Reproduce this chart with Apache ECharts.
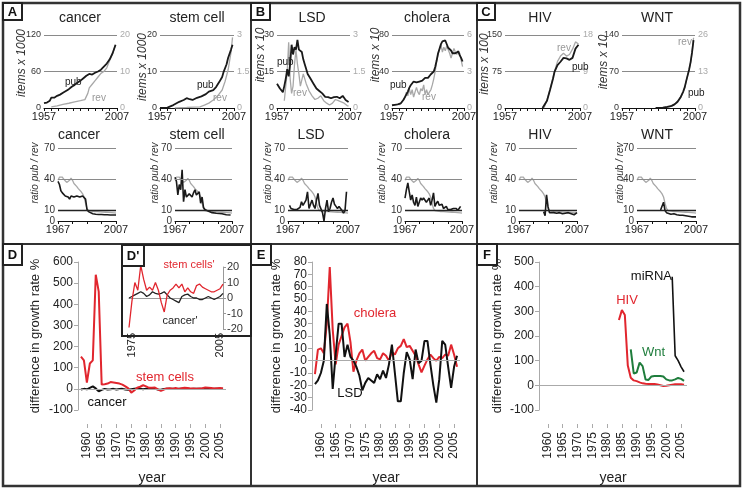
<!DOCTYPE html>
<html>
<head>
<meta charset="utf-8">
<script src="https://cdn.jsdelivr.net/npm/echarts@6/dist/echarts.min.js"></script>
<style>
html,body{margin:0;padding:0;background:#fff;}
#main{width:744px;height:489px;}
</style>
</head>
<body>
<div id="main"></div>
<script>
// tick labels
var topTicks = [1957,1962,1967,1972,1977,1982,1987,1992,1997,2002,2007];
var ratioTicks = [1967,1977,1987,1997,2007];
var bigTicks = [1960,1965,1970,1975,1980,1985,1990,1995,2000,2005];

// top row: publications (pub) and reviews (rev), [year, value]
var cancerPub = [[1957,8],[1959,9],[1961,12],[1962,17],[1964,17],[1966,20],[1968,22],[1970,25],[1972,28],[1974,31],[1976,35],[1978,38],[1980,42],[1982,45],[1984,49],[1986,53],[1988,56],[1990,55],[1992,58],[1994,60],[1996,63],[1998,68],[2000,73],[2002,80],[2004,90],[2006,104]];
var cancerRev = [[1962,0.3],[1966,0.6],[1970,1],[1974,1.3],[1978,1.7],[1982,2],[1985,2.3],[1986,2.5],[1987,4],[1988,5.5],[1990,6.5],[1992,7.5],[1994,8.5],[1996,9.5],[1998,10],[2000,11],[2002,13],[2004,15],[2006,17.3]];
var stemPub = [[1957,0],[1962,0.1],[1966,0.8],[1970,1.7],[1973,2.2],[1975,2.7],[1977,2.4],[1979,2.2],[1982,2.8],[1985,3.2],[1988,3.8],[1990,4.5],[1993,4.9],[1995,5.8],[1997,7.1],[1999,8.5],[2000,9.9],[2002,12],[2003,13.7],[2005,16],[2006,17.3]];
var stemRev = [[1967,0],[1975,0.02],[1980,0.04],[1984,0.05],[1987,0.12],[1990,0.2],[1993,0.33],[1996,0.5],[1999,0.74],[2001,1.1],[2003,1.56],[2005,2.3],[2006,2.9]];
var lsdPub = [[1957,10],[1959,8],[1961,6.5],[1962,9],[1963,12],[1964,16],[1965,13],[1966,18],[1967,26],[1968,22],[1969,25],[1970,24],[1971,28],[1972,24],[1973,23.5],[1974,23],[1975,20],[1976,18],[1977,16],[1978,14],[1980,12],[1982,10],[1984,8],[1986,7],[1988,6],[1990,4.6],[1992,4.5],[1994,4],[1996,4.5],[1998,4.6],[2000,4],[2002,5],[2004,3.3],[2006,2.5]];
var lsdRev = [[1962,0.3],[1964,1.5],[1965,2.7],[1966,1.2],[1967,0.6],[1968,0.9],[1969,1.8],[1970,2.4],[1971,1.8],[1972,1.4],[1973,0.9],[1975,1.4],[1977,1.0],[1979,0.7],[1981,0.5],[1983,0.35],[1985,0.4],[1987,0.5],[1989,0.3],[1991,0.2],[1993,0.12],[1995,0.2],[1997,0.35],[1999,0.3],[2001,0.25],[2003,0.2],[2005,0.1],[2006,0.08]];
var choleraPub = [[1957,3],[1959,3.5],[1961,4],[1963,5],[1964,6],[1965,9],[1966,12],[1967,15],[1968,18],[1969,22],[1970,25],[1971,27],[1972,29],[1973,27],[1974,28],[1975,27],[1976,29],[1977,31],[1978,30],[1979,32],[1980,33],[1981,34],[1982,33],[1983,35],[1984,37],[1985,36],[1986,40],[1987,45],[1988,52],[1989,60],[1990,65],[1991,70],[1992,73],[1993,72],[1994,74],[1995,73],[1996,66],[1997,64],[1998,63],[1999,60],[2000,62],[2001,60],[2002,58],[2003,62],[2004,58],[2005,55],[2006,51]];
var choleraRev = [[1962,0.25],[1964,0.5],[1966,0.9],[1967,1.3],[1968,1.0],[1969,1.6],[1970,1.1],[1971,1.5],[1972,0.9],[1973,1.3],[1974,1.7],[1975,1.3],[1976,1.1],[1977,1.6],[1978,1.4],[1979,1.9],[1980,1.1],[1981,1.5],[1982,1.1],[1983,1.3],[1984,1.5],[1985,1.9],[1986,2.4],[1987,3.0],[1988,3.8],[1989,4.4],[1990,4.8],[1991,5.2],[1992,4.6],[1993,5.0],[1994,4.7],[1995,5.1],[1996,5.0],[1997,4.5],[1998,4.1],[1999,4.5],[2000,4.9],[2001,4.6],[2002,4.4],[2003,4.7],[2004,4.5],[2005,4.6],[2006,3.4]];
var hivPub = [[1982,0],[1983,0],[1985,15],[1987,37],[1989,60],[1990,74],[1992,88],[1994,95],[1996,103],[1998,102],[2000,99],[2002,103],[2004,122],[2006,130]];
var hivRev = [[1983,0],[1985,2],[1987,4.5],[1989,7.5],[1990,9],[1992,11.5],[1994,12.8],[1996,13.5],[1998,12.8],[2000,13.2],[2002,14.5],[2004,16.3],[2005,16.5],[2006,15.8]];
var wntPub = [[1980,0],[1985,0.5],[1988,2],[1991,4],[1993,7],[1995,12],[1997,20],[1999,32],[2000,40],[2001,52],[2002,63],[2003,74],[2004,88],[2005,107],[2006,130]];
var wntRev = [[1985,0.1],[1990,0.5],[1995,2],[1997,3.5],[1999,5.8],[2000,7.4],[2001,9.6],[2002,11.6],[2003,13.7],[2004,16.3],[2005,19.8],[2006,25]];

// second row: ratio pub / rev
var ratioAll = [[1967,39],[1968,42],[1969,43],[1970,42],[1971,40],[1972,39],[1973,37],[1974,36],[1975,39],[1976,41],[1977,39],[1978,36],[1979,35],[1980,33],[1981,31],[1982,30],[1983,28],[1984,26],[1985,23],[1986,17],[1987,12],[1988,10],[1989,9.6],[1990,9.5],[1992,9],[1994,9],[1996,8.8],[1998,8.6],[2000,8.4],[2002,8.2],[2004,8],[2006,7.8],[2007,7.5]];
var cancerRatio = [[1967,38],[1968,35],[1969,29],[1970,27],[1971,26],[1972,24],[1973,25],[1974,23],[1975,21],[1976,24],[1977,25],[1978,23],[1979,22],[1980,24],[1981,25],[1982,23],[1983,24],[1984,24],[1985,25],[1986,21],[1987,11],[1988,9],[1989,8],[1991,7],[1993,6.5],[1995,6.3],[1997,6.2],[1999,6],[2001,6],[2003,5.8],[2005,5.8],[2007,5.8]];
var stemRatio = [[1967,42],[1968,38],[1969,25],[1970,35],[1971,30],[1972,49],[1973,18.5],[1974,30],[1975,23],[1976,24],[1977,26],[1978,25],[1979,23],[1980,27],[1981,30],[1982,25],[1983,26],[1984,28],[1985,17],[1986,23],[1987,13],[1988,11],[1989,10],[1991,9],[1993,8],[1996,7.5],[2000,7],[2003,6],[2006,5.8]];
var lsdRatio = [[1968,15],[1969,12],[1970,10.5],[1971,11],[1972,12],[1973,11],[1974,10],[1975,13],[1976,18.5],[1977,15],[1978,14],[1979,20],[1980,28],[1981,12],[1982,16],[1983,20],[1984,15],[1985,12],[1986,20],[1987,26.5],[1988,15],[1989,16],[1990,8],[1991,0],[1992,12],[1993,20],[1994,9],[1995,12],[1996,18],[1997,22],[1998,16],[1999,14],[2000,12],[2001,14],[2002,12],[2003,10],[2004,7.5],[2005,10],[2006,28]];
var choleraRatio = [[1967,22],[1968,30],[1969,36.5],[1970,28],[1971,20],[1972,25],[1973,18],[1974,15],[1975,23],[1976,14],[1977,18],[1978,22],[1979,20],[1980,22],[1981,23],[1982,18],[1983,20],[1984,22],[1985,15],[1986,20],[1987,27],[1988,14],[1989,17],[1990,19],[1991,15],[1992,14],[1993,16],[1994,12],[1995,13],[1996,14],[1997,11],[1998,12],[1999,11],[2000,10],[2001,12],[2002,11],[2003,12],[2004,10],[2005,9.5],[2006,14]];
var hivRatio = [[1984,9],[1985,5],[1986,25],[1987,14],[1988,8],[1989,7],[1991,8],[1993,7.5],[1995,8],[1997,7],[1999,7.5],[2001,8],[2003,7],[2005,6],[2007,8]];
var wntRatio = [[1983,10.5],[1984,12],[1985,18],[1986,10],[1987,8],[1988,7],[1990,6.5],[1992,7],[1994,6],[1996,5.5],[1998,5.5],[2000,5],[2002,4.5],[2004,4],[2007,4]];

// bottom row: difference in growth rate %
var years58 = [1958,1959,1960,1961,1962,1963,1964,1965,1966,1967,1968,1969,1970,1971,1972,1973,1974,1975,1976,1977,1978,1979,1980,1981,1982,1983,1984,1985,1986,1987,1988,1989,1990,1991,1992,1993,1994,1995,1996,1997,1998,1999,2000,2001,2002,2003,2004,2005,2006];
var stemCellsD = [152,135,30,120,135,540,460,20,22,25,32,30,28,25,20,12,2,-18,-8,5,10,17,12,5,5,6,-2,-10,-3,2,3,1,4,0,3,5,4,2,2,0,2,3,6,5,4,2,3,4,2];
var cancerD = [-3,0,-2,5,12,2,-12,-5,0,-3,-2,0,-3,-1,0,-3,-4,-2,0,2,0,-2,1,0,-1,0,-3,-4,-1,0,1,0,-1,0,0,1,0,-1,0,1,0,0,1,0,-1,0,1,0,0];
var choleraE = [-11,9,10,6,30,76,25,-3,13,20,27,30,15,-9,0,6,9,0,3,6,8,2,1,6,4,0,7,5,10,12,17.5,11,12,8,4,-3,-9.5,-4,1,5,2,0,3,2,5,4,13,5,-5];
var lsdE = [-19,-16,-10,0,46,21,-23,5,30,30,3,13,3,0,-5,-12,-24,-18,-14,-16,-18,-11,-15,-8,-14,-3,13,-10,-33,-33,-10,7,1,-15,9,-2,0,16,16,-3,-20,-34,-15,16,13,-5,-22,-5,4];
var hivYears = [1984,1985,1986,1987,1988,1989,1990,1991,1992,1993,1994,1995,1996,1997,1998,1999,2000,2001,2002,2003,2004,2005,2006];
var hivF = [265,305,285,80,31,20,17,12,8,6,5,5,5,3,0,-3,-2,0,2,4,4,4,2];
var wntYears = [1988,1989,1990,1991,1992,1993,1994,1995,1996,1997,1998,1999,2000,2001,2002,2003,2004,2005,2006];
var wntF = [146,48,52,92,78,24,22,36,38,38,38,36,24,20,20,24,30,26,18];
var mirnaYears = [2002,2003,2004,2005,2006];
var mirnaF = [440,120,100,75,55];

// inset D'
var insetYears = [1974,1975,1976,1977,1978,1979,1980,1981,1982,1983,1984,1985,1986,1987,1988,1989,1990,1991,1992,1993,1994,1995,1996,1997,1998,1999,2000,2001,2002,2003,2004,2005,2006];
var stemInset = [-19,-2,10,5,21,12,5,7,5,10,5,-3,-9,2,5,6.5,9,6.5,9,4,6.5,4,3,8,9,7,6,5,4,4,5,6,9];
var cancerInset = [0,1,2,3,4,3,1,2,4,3,2.5,3,4,2,0,-1,-2,-3,1,2,2.5,1,0,0,-1,-1,0,1,0,-1,0,1,3];

var FONT = '"Liberation Sans", Arial, sans-serif';
var RED = '#e1262e', GREEN = '#1f7d3c', GREY = '#a8a8a8';

var grids = [], xAxes = [], yAxes = [], series = [], graphics = [];

function yearFmt(v) { return String(v); }

function pairs(xs, ys) {
    var out = [];
    for (var i = 0; i < xs.length; i++) out.push([xs[i], ys[i]]);
    return out;
}

function lineSeries(xi, yi, data, color, width) {
    return {type: 'line', xAxisIndex: xi, yAxisIndex: yi, data: data, symbol: 'none',
        silent: true, animation: false, lineStyle: {color: color, width: width}};
}

function hLines(values, color, width) {
    return {silent: true, symbol: 'none', label: {show: false}, animation: false,
        lineStyle: {color: color, width: width, type: 'solid'},
        data: values.map(function (v) { return {yAxis: v}; })};
}

function addGrid(left, top, width, height) {
    grids.push({left: left, top: top, width: width, height: height, outerBoundsMode: 'none'});
    return grids.length - 1;
}

function smallX(gi, min, max, ticks) {
    xAxes.push({gridIndex: gi, type: 'value', min: min, max: max,
        axisLine: {lineStyle: {color: '#111', width: 1}},
        axisTick: {customValues: ticks, length: 3, lineStyle: {color: '#111'}},
        axisLabel: {customValues: [min, max], formatter: yearFmt, fontSize: 11, color: '#222',
            margin: 3, fontFamily: FONT, hideOverlap: false},
        splitLine: {show: false}});
    return xAxes.length - 1;
}

function topChart(left, width, leftMax, rightMax, pub, rev) {
    var gi = addGrid(left, 35, width, 73);
    var xi = smallX(gi, 1957, 2007, topTicks);
    var yi = yAxes.length;
    yAxes.push({gridIndex: gi, type: 'value', min: 0, max: leftMax, interval: leftMax / 2,
        axisLine: {show: false}, axisTick: {show: false},
        axisLabel: {fontSize: 9, color: '#333', margin: 3, fontFamily: FONT, hideOverlap: false},
        splitLine: {lineStyle: {color: '#8a8a8a', width: 1}}});
    yAxes.push({gridIndex: gi, type: 'value', position: 'right', min: 0, max: rightMax, interval: rightMax / 2,
        axisLine: {show: false}, axisTick: {show: false},
        axisLabel: {fontSize: 9, color: '#aaa', margin: 3, fontFamily: FONT, hideOverlap: false},
        splitLine: {show: false}});
    series.push(lineSeries(xi, yi + 1, rev, GREY, 1.3));
    series.push(lineSeries(xi, yi, pub, '#1a1a1a', 1.8));
}

function ratioChart(left, width, data) {
    var gi = addGrid(left, 148, width, 73);
    var xi = smallX(gi, 1967, 2007, ratioTicks);
    var yi = yAxes.length;
    yAxes.push({gridIndex: gi, type: 'value', min: 0, max: 70, interval: 10,
        axisLine: {show: false}, axisTick: {show: false},
        axisLabel: {customValues: [0, 10, 40, 70], showMinLabel: true, hideOverlap: false,
            fontSize: 10, color: '#333', margin: 3, fontFamily: FONT},
        splitLine: {show: false}});
    var g = lineSeries(xi, yi, ratioAll, GREY, 1.3);
    g.markLine = hLines([40, 70], '#8a8a8a', 1);
    var b = lineSeries(xi, yi, data, '#1a1a1a', 1.6);
    b.markLine = hLines([10], '#222', 1.4);
    series.push(g, b);
}

// returns [xAxisIndex, yAxisIndex]
function bigChart(left, min, max, step, gap) {
    var gi = addGrid(left, 262, 148, 148);
    xAxes.push({gridIndex: gi, type: 'value', min: 1957, max: 2007, offset: 14,
        axisLine: {show: false, onZero: false},
        axisTick: {customValues: bigTicks, length: 4, lineStyle: {color: '#aaa'}},
        axisLabel: {customValues: bigTicks, formatter: yearFmt, rotate: 90, fontSize: 12, color: '#222',
            margin: 8, fontFamily: FONT, hideOverlap: false},
        splitLine: {show: false},
        name: 'year', nameLocation: 'middle', nameGap: 47, nameMoveOverlap: false,
        nameTextStyle: {fontSize: 14, color: '#222', fontFamily: FONT}});
    yAxes.push({gridIndex: gi, type: 'value', min: min, max: max, interval: step,
        axisLine: {show: true, lineStyle: {color: '#aaa'}},
        axisTick: {show: true, length: 4, lineStyle: {color: '#aaa'}},
        axisLabel: {fontSize: 12, color: '#222', margin: 5, fontFamily: FONT, hideOverlap: false},
        splitLine: {show: false},
        name: 'difference in growth rate %', nameLocation: 'middle', nameGap: gap, nameMoveOverlap: false,
        nameTextStyle: {fontSize: 13, color: '#222', fontFamily: FONT}});
    return [xAxes.length - 1, yAxes.length - 1];
}

function text(str, x, y, size, color, align, extra, rotation) {
    var el = {type: 'text', x: x, y: y, z: 20, silent: true, rotation: rotation || 0,
        style: {text: str, fontSize: size, fontFamily: FONT, fill: color || '#222',
            align: align || 'center', verticalAlign: 'middle'}};
    if (extra) for (var k in extra) el.style[k] = extra[k];
    graphics.push(el);
}

function vname(str, x, y, size) {
    text(str, x, y, size, '#333', 'center', {fontStyle: 'italic'}, Math.PI / 2);
}

function panelLabel(str, x, y, w, h) {
    graphics.push({type: 'rect', z: 20, silent: true, shape: {x: x, y: y, width: w, height: h},
        style: {fill: '#fff', stroke: '#222', lineWidth: 2}});
    text(str, x + w / 2, y + h / 2 + 1, 13, '#111', 'center', {fontWeight: 'bold'});
}

// top row
topChart(44, 73, 120, 20, cancerPub, cancerRev);
topChart(160, 74, 20, 3, stemPub, stemRev);
topChart(277, 73, 30, 3, lsdPub, lsdRev);
topChart(392, 72, 80, 6, choleraPub, choleraRev);
topChart(505, 75, 150, 18, hivPub, hivRev);
topChart(622, 73, 140, 26, wntPub, wntRev);

// ratio row
ratioChart(58, 58, cancerRatio);
ratioChart(175, 57, stemRatio);
ratioChart(288, 60, lsdRatio);
ratioChart(405, 57, choleraRatio);
ratioChart(519, 58, hivRatio);
ratioChart(637, 59, wntRatio);

// D
var d = bigChart(78, -100, 600, 100, 36);
var s1 = lineSeries(d[0], d[1], pairs(years58, cancerD), '#111', 2);
s1.markLine = hLines([0], '#aaa', 1);
series.push(s1, lineSeries(d[0], d[1], pairs(years58, stemCellsD), RED, 2));

// E
var e = bigChart(312, -40, 80, 10, 29);
var s2 = lineSeries(e[0], e[1], pairs(years58, choleraE), RED, 2);
s2.markLine = hLines([0], '#aaa', 1);
series.push(s2, lineSeries(e[0], e[1], pairs(years58, lsdE), '#111', 2));

// F
var f = bigChart(539, -100, 500, 100, 35);
var s3 = lineSeries(f[0], f[1], pairs(hivYears, hivF), RED, 2);
s3.markLine = hLines([0], '#aaa', 1);
series.push(s3, lineSeries(f[0], f[1], pairs(wntYears, wntF), GREEN, 2), lineSeries(f[0], f[1], pairs(mirnaYears, mirnaF), '#111', 1.6));

// D' inset
var gi = addGrid(129, 267, 94, 62);
xAxes.push({gridIndex: gi, type: 'value', min: 1974, max: 2006,
    axisLine: {onZero: true, lineStyle: {color: '#999'}}, axisTick: {show: false},
    axisLabel: {customValues: [1975, 2005], formatter: yearFmt, rotate: 90, fontSize: 11, color: '#222',
        margin: 4, fontFamily: FONT, hideOverlap: false},
    splitLine: {show: false}});
yAxes.push({gridIndex: gi, type: 'value', position: 'right', min: -20, max: 20, interval: 10,
    axisLine: {show: true, lineStyle: {color: '#999'}},
    axisTick: {show: true, length: 3, lineStyle: {color: '#999'}},
    axisLabel: {fontSize: 11, color: '#333', margin: 4, fontFamily: FONT, hideOverlap: false},
    splitLine: {show: false}});
var ix = xAxes.length - 1, iy = yAxes.length - 1;
series.push(lineSeries(ix, iy, pairs(insetYears, cancerInset), '#222', 1.3));
series.push(lineSeries(ix, iy, pairs(insetYears, stemInset), RED, 1.3));

// frames
graphics.push({type: 'rect', z: 15, silent: true, shape: {x: 3, y: 3, width: 737, height: 483},
    style: {fill: null, stroke: '#333', lineWidth: 2.5}});
graphics.push({type: 'line', z: 15, silent: true, shape: {x1: 251, y1: 3, x2: 251, y2: 486}, style: {stroke: '#333', lineWidth: 2}});
graphics.push({type: 'line', z: 15, silent: true, shape: {x1: 477, y1: 3, x2: 477, y2: 486}, style: {stroke: '#333', lineWidth: 2}});
graphics.push({type: 'line', z: 15, silent: true, shape: {x1: 3, y1: 244, x2: 740, y2: 244}, style: {stroke: '#333', lineWidth: 2}});
graphics.push({type: 'rect', z: 15, silent: true, shape: {x: 122, y: 245, width: 129, height: 91},
    style: {fill: null, stroke: '#222', lineWidth: 2}});

panelLabel('A', 3, 3, 19, 17);
panelLabel('B', 251, 3, 19, 17);
panelLabel('C', 477, 3, 18, 17);
panelLabel('D', 3, 244, 19, 21);
panelLabel('E', 251, 244, 20, 21);
panelLabel('F', 477, 244, 20, 21);
panelLabel("D'", 122, 245, 22, 21);

// titles
text('cancer', 80, 18, 14); text('stem cell', 197, 18, 14);
text('LSD', 312, 18, 14); text('cholera', 427, 18, 14);
text('HIV', 540, 18, 14); text('WNT', 657, 18, 14);
text('cancer', 79, 135, 14); text('stem cell', 197, 135, 14);
text('LSD', 311, 135, 14); text('cholera', 427, 135, 14);
text('HIV', 540, 135, 14); text('WNT', 657, 135, 14);

// y axis names of the small charts
vname('items x 1000', 22, 63, 12); vname('items x 1000', 143, 67, 12);
vname('items x 10', 261, 55, 12); vname('items x 10', 376, 55, 12);
vname('items x 100', 485, 64, 12); vname('items x 10', 604, 62, 12);
vname('ratio pub / rev', 35, 173, 10); vname('ratio pub / rev', 155, 173, 10);
vname('ratio pub / rev', 268, 173, 10); vname('ratio pub / rev', 382, 173, 10);
vname('ratio pub / rev', 494, 173, 10); vname('ratio pub / rev', 620, 173, 10);

// pub / rev tags
text('pub', 65, 82, 10, '#222', 'left'); text('rev', 92, 98, 10, '#999', 'left');
text('pub', 197, 85, 10, '#222', 'left'); text('rev', 213, 98, 10, '#999', 'left');
text('pub', 277, 62, 10, '#222', 'left'); text('rev', 293, 93, 10, '#999', 'left');
text('pub', 390, 85, 10, '#222', 'left'); text('rev', 422, 97, 10, '#999', 'left');
text('rev', 557, 48, 10, '#999', 'left'); text('pub', 572, 67, 10, '#222', 'left');
text('rev', 678, 42, 10, '#999', 'left'); text('pub', 688, 93, 10, '#222', 'left');

// bottom series labels
text('stem cells', 165, 377, 13, RED);
text('cancer', 107, 402, 13, '#111');
text("stem cells'", 189, 265, 11, RED);
text("cancer'", 180, 321, 11, '#222');
text('cholera', 375, 313, 13, RED);
text('LSD', 350, 393, 13, '#111');
text('miRNA', 672, 276, 13, '#111', 'right');
text('HIV', 627, 300, 13, RED);
text('Wnt', 642, 352, 13, GREEN, 'left');

var chart = echarts.init(document.getElementById('main'));
chart.setOption({
    animation: false,
    grid: grids,
    xAxis: xAxes,
    yAxis: yAxes,
    series: series,
    graphic: graphics
});
</script>
</body>
</html>
